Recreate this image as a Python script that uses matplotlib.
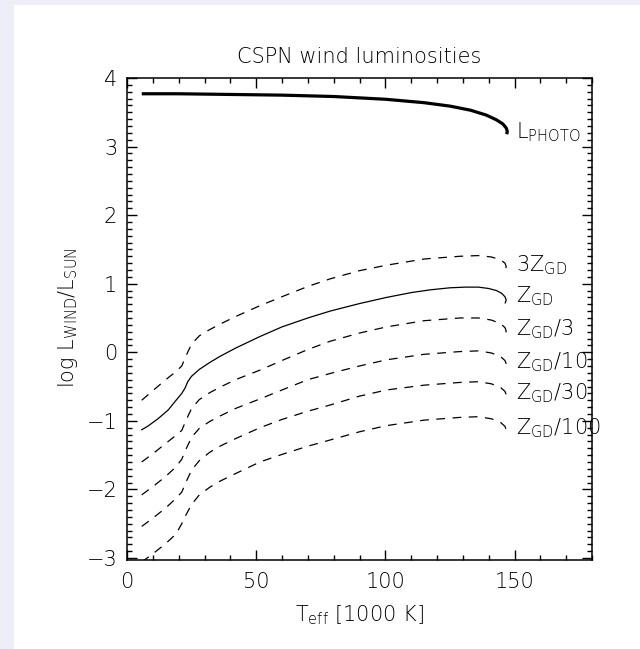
import numpy as np
import matplotlib
matplotlib.use('Agg')
import matplotlib.pyplot as plt
from matplotlib.patches import Rectangle
from matplotlib.ticker import MultipleLocator

# photospheric luminosity (log L/Lsun) vs Teff [1000 K]
photo_t = [5.7, 20, 40, 60, 80, 100, 115, 125, 133, 139, 143, 145.5, 146.8, 147.2, 147.0]
photo_l = [3.77, 3.77, 3.76, 3.75, 3.73, 3.69, 3.64, 3.59, 3.53, 3.46, 3.39, 3.33, 3.27, 3.22, 3.18]

# wind luminosity at Z_GD (solid)
zgd_t = [5.7, 8, 12, 16, 19, 21.2, 22.5, 23.5, 25, 28, 32, 36, 42, 51.5, 60, 70, 78.6,
         90, 100.5, 110, 117.3, 125, 131, 136, 140, 143, 145, 146.3, 146.8, 146.4]
zgd_l = [-1.13, -1.08, -0.97, -0.84, -0.70, -0.60, -0.52, -0.43, -0.35, -0.25, -0.15, -0.06,
         0.06, 0.23, 0.37, 0.50, 0.60, 0.71, 0.80, 0.87, 0.91, 0.94, 0.95, 0.95, 0.93, 0.90,
         0.86, 0.81, 0.76, 0.72]

# wind luminosities at scaled metallicities (dashed)
scaled_t = [5.7, 10, 15, 19, 21.2, 23, 25, 28, 32, 36, 42, 51.5, 60, 70, 78.6, 90, 100.5,
            115, 128.9, 136, 141, 144.5, 146.3, 146.8, 146.5]
z3x_l = [-0.70, -0.56, -0.40, -0.28, -0.20, -0.04, 0.12, 0.24, 0.33, 0.41, 0.52, 0.68, 0.81,
         0.96, 1.07, 1.19, 1.27, 1.36, 1.40, 1.41, 1.39, 1.35, 1.30, 1.25, 1.21]
z3_l = [-1.60, -1.48, -1.33, -1.21, -1.14, -0.98, -0.82, -0.69, -0.59, -0.51, -0.40, -0.26,
        -0.12, 0.04, 0.16, 0.28, 0.37, 0.46, 0.50, 0.50, 0.47, 0.42, 0.36, 0.31, 0.28]
z10_l = [-2.08, -1.96, -1.81, -1.67, -1.56, -1.40, -1.24, -1.11, -1.01, -0.93, -0.82, -0.68,
         -0.55, -0.40, -0.31, -0.20, -0.11, -0.03, 0.01, 0.02, -0.01, -0.06, -0.12, -0.17, -0.21]
z30_l = [-2.54, -2.42, -2.27, -2.13, -2.04, -1.88, -1.72, -1.58, -1.46, -1.37, -1.26, -1.10,
         -0.98, -0.86, -0.77, -0.64, -0.55, -0.48, -0.44, -0.43, -0.46, -0.51, -0.57, -0.62, -0.66]
z100_l = [-3.06, -2.94, -2.79, -2.65, -2.50, -2.36, -2.22, -2.08, -1.97, -1.88, -1.77, -1.60,
          -1.49, -1.37, -1.28, -1.16, -1.07, -0.99, -0.95, -0.94, -0.97, -1.02, -1.08, -1.13, -1.17]

scaled = [('3Z$_\\mathregular{GD}$', z3x_l),
          ('Z$_\\mathregular{GD}$/3', z3_l),
          ('Z$_\\mathregular{GD}$/10', z10_l),
          ('Z$_\\mathregular{GD}$/30', z30_l),
          ('Z$_\\mathregular{GD}$/100', z100_l)]

plt.rcParams['font.family'] = ['DejaVu Sans']
plt.rcParams['font.weight'] = 'light'
plt.rcParams['axes.titleweight'] = 'light'
plt.rcParams['axes.unicode_minus'] = True
FS = 15

W, H = 640, 649
fig = plt.figure(figsize=(W / 100, H / 100), dpi=100)
fig.patch.set_facecolor('#eeeef8')
fig.patches.append(Rectangle((14 / W, 0), 1, 1 - 5 / H, transform=fig.transFigure,
                             facecolor='white', edgecolor='none', zorder=-10))

ax = fig.add_axes([127 / W, 1 - 560 / H, 465 / W, 482 / H])
ax.set_facecolor('none')
ax.set_xlim(0, 180)
ax.set_ylim(-3.03, 4)

ax.plot(photo_t, photo_l, color='black', lw=2.3, solid_capstyle='butt')
ax.plot(zgd_t, zgd_l, color='black', lw=0.9)
for lab, yy in scaled:
    ax.plot(scaled_t, yy, color='black', lw=0.9, dashes=(7, 6))

lx = 150.5
ax.text(lx, photo_l[-1] - 0.06, 'L$_\\mathregular{PHOTO}$', fontsize=FS, va='baseline')
ax.text(lx, zgd_l[-1], 'Z$_\\mathregular{GD}$', fontsize=FS, va='baseline')
for lab, yy in scaled:
    ax.text(lx, yy[-1] - 0.03, lab, fontsize=FS, va='baseline')

ax.xaxis.set_major_locator(MultipleLocator(50))
ax.xaxis.set_minor_locator(MultipleLocator(10))
ax.yaxis.set_major_locator(MultipleLocator(1))
ax.yaxis.set_minor_locator(MultipleLocator(0.1))
ax.tick_params(which='both', direction='in', top=True, right=True, width=1.0,
               labelsize=FS)
ax.tick_params(which='major', length=7)
ax.tick_params(which='minor', length=3.5)
ax.tick_params(axis='x', pad=9)
ax.tick_params(axis='y', pad=7)
for s in ax.spines.values():
    s.set_linewidth(1.1)

ax.set_title('CSPN wind luminosities', fontsize=FS, fontweight='light', pad=11)
fig.text((127 + 592) / 2 / W, 1 - 621 / H, 'T$_\\mathregular{eff}$ [1000 K]',
         fontsize=FS, ha='center', va='baseline')
fig.text(68 / W, 1 - 318 / H, 'log L$_\\mathregular{WIND}$/L$_\\mathregular{SUN}$',
         fontsize=FS, ha='center', va='center', rotation=90)

fig.savefig('out.png', dpi=100, facecolor=fig.get_facecolor())
